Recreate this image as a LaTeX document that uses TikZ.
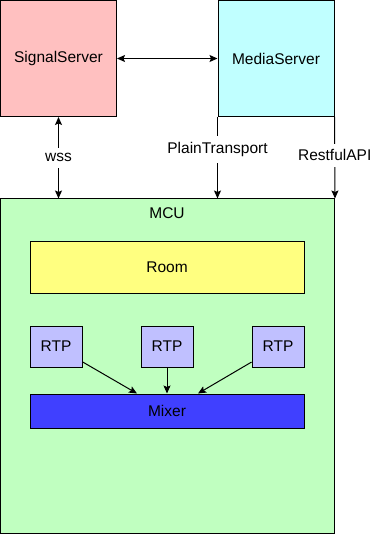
\documentclass[tikz,border=0pt]{standalone}
\usepackage{fontspec}
\setmainfont{Liberation Sans}
\usetikzlibrary{arrows.meta}
\definecolor{sigfill}{HTML}{FFC0C0}
\definecolor{medfill}{HTML}{C0FFFF}
\definecolor{mcufill}{HTML}{C0FFC0}
\definecolor{roomfill}{HTML}{FFFF80}
\definecolor{rtpfill}{HTML}{C0C0FF}
\definecolor{mixfill}{HTML}{4040FF}
\begin{document}
\begin{tikzpicture}[x=1pt,y=-1pt,
  font=\fontsize{15.5}{18}\selectfont,
  box/.style={draw=black, line width=1pt, inner sep=0pt, text=black},
  link/.style={line width=1pt, draw=black},
  tip/.style={-{Stealth[length=8pt,width=7pt,inset=1.5pt]}},
  bitip/.style={{Stealth[length=8pt,width=7pt,inset=1.5pt]}-{Stealth[length=8pt,width=7pt,inset=1.5pt]}},
  lbl/.style={fill=white, inner xsep=1pt, inner ysep=6pt}]
\useasboundingbox (0,0) rectangle (377,534);

% servers
\node[box, fill=sigfill, minimum width=116pt, minimum height=116pt] (sig) at (58.5,58.5) {SignalServer};
\node[box, fill=medfill, minimum width=116pt, minimum height=116pt] (med) at (276,58.5) {MediaServer};

% MCU container and its parts
\node[box, fill=mcufill, minimum width=334pt, minimum height=334pt] (mcu) at (167.5,366) {};
\node (mcutitle) at (167,213) {MCU};
\node[box, fill=roomfill, minimum width=274pt, minimum height=52pt] (room) at (167,267) {Room};
\node[box, fill=rtpfill, minimum width=52pt, minimum height=41pt] (rtp1) at (56,346.5) {RTP};
\node[box, fill=rtpfill, minimum width=52pt, minimum height=41pt] (rtp2) at (167,346.5) {RTP};
\node[box, fill=rtpfill, minimum width=52pt, minimum height=41pt] (rtp3) at (278,346.5) {RTP};
\node[box, fill=mixfill, minimum width=274pt, minimum height=34pt] (mixer) at (167,411) {Mixer};

% connections between servers and MCU
\draw[link, bitip] (sig.east) -- (med.west);
\draw[link, bitip] (sig.south) -- (sig.south |- mcu.north) node[lbl, midway] {wss};
\draw[link, tip] (med.south west) -- (med.south west |- mcu.north) node[lbl, pos=0.4] {PlainTransport};
\draw[link, tip] (med.south east) -- (mcu.north east) node[lbl, pos=0.47] {RestfulAPI};

% RTP streams into the mixer
\draw[link, tip] (rtp1) -- ([xshift=-30pt]mixer.north);
\draw[link, tip] (rtp2) -- (mixer.north);
\draw[link, tip] (rtp3) -- ([xshift=31pt]mixer.north);
\end{tikzpicture}
\end{document}
